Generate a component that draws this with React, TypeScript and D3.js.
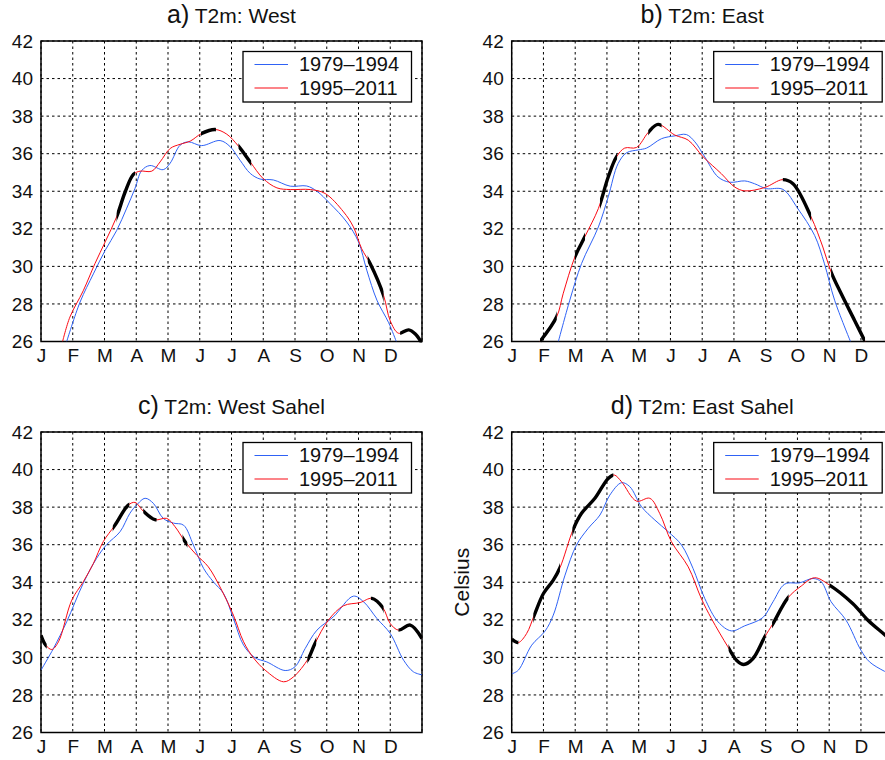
import React, { useEffect, useRef } from "react";
import * as d3 from "d3";

type Pt = [number, number];

const monthLabels = ["J", "F", "M", "A", "M", "J", "J", "A", "S", "O", "N", "D"];
const tempTicks = [26, 28, 30, 32, 34, 36, 38, 40, 42];
const periods = ["1979–1994", "1995–2011"];

// [month position, temperature]
const westEarly: Pt[] = [[0.81, 26], [1.23, 28.1], [1.65, 29.6], [2.02, 30.85], [2.38, 31.9], [2.7, 33.1], [2.96, 34.15], [3.17, 35.1], [3.43, 35.37], [3.85, 35.15], [4.07, 35.5], [4.38, 36.45], [4.64, 36.63], [5.06, 36.43], [5.64, 36.7], [5.96, 36.37], [6.27, 35.65], [6.59, 34.95], [6.9, 34.65], [7.32, 34.6], [7.85, 34.27], [8.37, 34.28], [8.69, 34.0], [9.1, 33.35], [9.63, 32.36], [10.0, 31.3], [10.26, 29.8], [10.58, 28.2], [10.95, 27.0], [11.19, 26]];
const westLate: Pt[] = [[0.68, 26], [0.91, 27.3], [1.33, 28.7], [1.7, 30.15], [2.02, 31.3], [2.38, 32.63], [2.65, 33.96], [2.91, 34.9], [3.12, 35.07], [3.49, 35.07], [3.75, 35.56], [4.07, 36.28], [4.38, 36.5], [4.7, 36.67], [5.06, 37.08], [5.48, 37.29], [5.85, 37.04], [6.22, 36.4], [6.59, 35.56], [7.0, 34.67], [7.43, 34.18], [7.85, 34.09], [8.48, 34.09], [8.95, 33.88], [9.53, 32.9], [9.84, 32.1], [10.1, 30.94], [10.37, 30.14], [10.79, 28.45], [11, 27.1], [11.26, 26.44], [11.58, 26.62], [11.79, 26.4], [12, 25.9]];
const westSignif: Pt[] = [[2.38, 2.96], [5.04, 5.51], [6.22, 6.62], [10.29, 10.79], [11.31, 12]];

const eastEarly: Pt[] = [[1.47, 26], [1.83, 28.2], [2.2, 30.15], [2.73, 32.1], [3.04, 33.7], [3.35, 35.47], [3.62, 36.05], [3.98, 36.2], [4.25, 36.3], [4.72, 36.8], [5.14, 36.95], [5.5, 37.02], [5.77, 36.63], [6.08, 35.83], [6.5, 34.76], [6.87, 34.48], [7.34, 34.55], [7.65, 34.4], [8.02, 34.14], [8.54, 34.1], [9.01, 33.08], [9.54, 31.65], [9.85, 30.14], [10.17, 28.2], [10.67, 26]];
const eastLate: Pt[] = [[0.89, 26], [1.42, 27.33], [1.62, 28.54], [1.99, 30.5], [2.31, 31.6], [2.73, 33.08], [3.04, 34.76], [3.3, 35.83], [3.56, 36.3], [3.93, 36.33], [4.3, 37.13], [4.61, 37.56], [5.14, 36.99], [5.56, 36.72], [6.03, 35.83], [6.6, 34.94], [7.02, 34.23], [7.34, 34.02], [7.97, 34.2], [8.54, 34.62], [8.86, 34.4], [9.43, 32.63], [9.8, 31.03], [10.06, 29.7], [10.38, 28.54], [10.8, 27.12], [11.13, 26]];
const eastSignif: Pt[] = [[0.89, 1.42], [1.99, 2.31], [2.78, 3.32], [4.3, 4.72], [8.54, 9.43], [10.06, 11.13]];

const westSahelEarly: Pt[] = [[0, 29.32], [0.39, 30.47], [0.81, 31.9], [1.33, 33.94], [1.75, 35.27], [2.07, 36.01], [2.49, 36.69], [2.8, 37.67], [3.01, 38.11], [3.28, 38.47], [3.54, 38.2], [3.85, 37.4], [4.17, 37.15], [4.49, 37.04], [4.8, 35.98], [5.12, 34.74], [5.43, 34.02], [5.75, 33.4], [6.06, 32.07], [6.38, 30.65], [6.74, 29.98], [7.11, 29.76], [7.69, 29.3], [8.0, 29.5], [8.32, 30.47], [8.69, 31.45], [9.21, 32.16], [9.84, 33.26], [10.16, 32.96], [10.58, 32.07], [11.0, 31.27], [11.42, 29.85], [11.73, 29.23], [12, 29.07]];
const westSahelLate: Pt[] = [[0, 31.18], [0.15, 30.65], [0.34, 30.42], [0.55, 30.83], [0.97, 33.05], [1.33, 34.02], [1.65, 35], [1.96, 36.16], [2.33, 37.04], [2.75, 38.11], [2.96, 38.25], [3.22, 37.79], [3.59, 37.33], [3.96, 37.4], [4.22, 36.96], [4.54, 36.16], [4.9, 35.45], [5.27, 34.82], [5.69, 33.58], [6.06, 32.25], [6.38, 30.83], [6.69, 29.98], [7.06, 29.32], [7.64, 28.7], [7.95, 28.96], [8.42, 29.94], [8.63, 30.74], [9.05, 31.98], [9.53, 32.75], [10.05, 32.92], [10.42, 33.14], [10.77, 32.64], [11, 31.8], [11.26, 31.45], [11.63, 31.72], [12, 31]];
const westSahelSignif: Pt[] = [[0, 0.18], [2.26, 2.78], [3.22, 3.64], [4.46, 4.61], [8.39, 8.67], [10.39, 10.79], [11.26, 12]];

const eastSahelEarly: Pt[] = [[0, 29.12], [0.21, 29.32], [0.63, 30.65], [1.05, 31.4], [1.31, 32.25], [1.68, 34.38], [2.04, 35.98], [2.41, 36.87], [2.78, 37.58], [3.09, 38.64], [3.46, 39.3], [3.72, 39.09], [4.09, 38.02], [4.51, 37.31], [4.93, 36.69], [5.35, 35.98], [5.71, 34.74], [6.08, 33.14], [6.5, 31.89], [6.92, 31.41], [7.34, 31.68], [7.91, 32.12], [8.23, 32.96], [8.6, 33.9], [9.07, 33.97], [9.49, 34.2], [9.75, 34.02], [10.06, 32.96], [10.53, 31.98], [11.0, 30.38], [11.27, 29.76], [11.74, 29.26], [12, 29.05]];
const eastSahelLate: Pt[] = [[0, 30.97], [0.21, 30.79], [0.47, 31.27], [0.71, 32.25], [1.0, 33.4], [1.31, 34.11], [1.52, 34.77], [1.94, 36.83], [2.2, 37.67], [2.62, 38.47], [3.04, 39.53], [3.23, 39.71], [3.46, 39.35], [3.93, 38.32], [4.35, 38.47], [4.66, 37.67], [5.03, 36.16], [5.56, 34.82], [5.97, 33.14], [6.29, 32.07], [6.81, 30.56], [7.08, 29.85], [7.31, 29.62], [7.6, 29.94], [7.97, 31.09], [8.23, 31.8], [8.7, 33.17], [9.12, 33.8], [9.54, 34.24], [10.01, 33.85], [10.74, 32.87], [11.22, 31.98], [11.74, 31.22], [12, 30.83]];
const eastSahelSignif: Pt[] = [[0, 0.21], [0.68, 1.52], [1.91, 3.2], [6.83, 7.99], [8.2, 8.72], [10.01, 12]];

const panels = [
  { id: "a", tag: "a)", name: "T2m: West", left: 41, top: 41, early: westEarly, late: westLate, signif: westSignif },
  { id: "b", tag: "b)", name: "T2m: East", left: 511.7, top: 41, early: eastEarly, late: eastLate, signif: eastSignif },
  { id: "c", tag: "c)", name: "T2m: West Sahel", left: 41, top: 432, early: westSahelEarly, late: westSahelLate, signif: westSahelSignif },
  { id: "d", tag: "d)", name: "T2m: East Sahel", left: 511.7, top: 432, early: eastSahelEarly, late: eastSahelLate, signif: eastSahelSignif, yLabel: "Celsius" },
];

const WIDTH = 885;
const HEIGHT = 760;
const plotW = 381;
const plotH = 300.5;
const blue = "#2f62f5";
const red = "#fa0a14";
const fontFamily = "'Liberation Sans', Arial, sans-serif";

export default function App() {
  const ref = useRef<SVGSVGElement>(null);

  useEffect(() => {
    const svg = d3.select(ref.current);
    svg.selectAll("*").remove();
    svg.style("font-family", fontFamily);

    const x = d3.scaleLinear().domain([0, 12]).range([0, plotW]);
    const y = d3.scaleLinear().domain([26, 42]).range([plotH, 0]);
    const line = d3
      .line<Pt>()
      .x((d) => x(d[0]))
      .y((d) => y(d[1]))
      .curve(d3.curveCatmullRom.alpha(0.5));

    panels.forEach((p) => {
      const g = svg.append("g").attr("transform", `translate(${p.left},${p.top})`);

      const defs = g.append("defs");
      defs
        .append("clipPath")
        .attr("id", `plot-${p.id}`)
        .append("rect")
        .attr("width", plotW)
        .attr("height", plotH);
      defs
        .append("clipPath")
        .attr("id", `signif-${p.id}`)
        .selectAll("rect")
        .data(p.signif)
        .enter()
        .append("rect")
        .attr("x", (d) => x(d[0]))
        .attr("width", (d) => x(d[1]) - x(d[0]))
        .attr("y", -5)
        .attr("height", plotH + 6);

      // dashed grid
      const grid = g.append("g").attr("stroke", "#000").attr("stroke-width", 1).attr("stroke-dasharray", "2.5,3");
      grid
        .selectAll("line.v")
        .data(d3.range(0, 13))
        .enter()
        .append("line")
        .attr("x1", (d) => x(d))
        .attr("x2", (d) => x(d))
        .attr("y1", 0)
        .attr("y2", plotH);
      grid
        .selectAll("line.h")
        .data(tempTicks)
        .enter()
        .append("line")
        .attr("x1", 0)
        .attr("x2", plotW)
        .attr("y1", (d) => y(d))
        .attr("y2", (d) => y(d));

      // axes
      const xAxis = g
        .append("g")
        .attr("transform", `translate(0,${plotH})`)
        .call(
          d3
            .axisBottom(x)
            .tickValues(d3.range(0, 12))
            .tickFormat((d) => monthLabels[+d])
            .tickSize(0)
            .tickPadding(7)
        );
      const yAxis = g.append("g").call(
        d3
          .axisLeft(y)
          .tickValues(tempTicks)
          .tickFormat((d) => String(d))
          .tickSize(0)
          .tickPadding(8)
      );
      [xAxis, yAxis].forEach((a) => {
        a.attr("font-family", fontFamily).attr("font-size", 19);
        a.selectAll("text").attr("fill", "#111");
        a.select(".domain").remove();
      });

      g.append("rect")
        .attr("width", plotW)
        .attr("height", plotH)
        .attr("fill", "none")
        .attr("stroke", "#000")
        .attr("stroke-width", 1.5);

      // series
      const lines = g.append("g").attr("clip-path", `url(#plot-${p.id})`).attr("fill", "none");
      lines.append("path").attr("d", line(p.early)).attr("stroke", blue).attr("stroke-width", 1);
      lines.append("path").attr("d", line(p.late)).attr("stroke", red).attr("stroke-width", 1);

      // significant part of the late period
      g.append("g")
        .attr("clip-path", `url(#signif-${p.id})`)
        .append("path")
        .attr("d", line(p.late))
        .attr("fill", "none")
        .attr("stroke", "#000")
        .attr("stroke-width", 3.4);

      // legend
      const legend = g.append("g").attr("transform", "translate(202,10.5)");
      legend
        .append("rect")
        .attr("width", 168.5)
        .attr("height", 50.5)
        .attr("fill", "#fff")
        .attr("stroke", "#000")
        .attr("stroke-width", 1.3);
      periods.forEach((label, i) => {
        const rowY = 13 + i * 23.5;
        legend
          .append("line")
          .attr("x1", 11.5)
          .attr("x2", 45)
          .attr("y1", rowY)
          .attr("y2", rowY)
          .attr("stroke", i === 0 ? blue : red)
          .attr("stroke-width", 1.1);
        legend
          .append("text")
          .attr("x", 56)
          .attr("y", rowY + 6.8)
          .attr("font-size", 20)
          .attr("fill", "#111")
          .text(label);
      });

      // title
      const title = g
        .append("text")
        .attr("x", plotW / 2)
        .attr("y", -18)
        .attr("text-anchor", "middle")
        .attr("fill", "#111")
        .attr("font-size", 21);
      title.append("tspan").attr("font-size", 25).text(p.tag);
      title.append("tspan").text(" " + p.name);

      if (p.yLabel) {
        g.append("text")
          .attr("transform", `translate(-43,${plotH / 2}) rotate(-90)`)
          .attr("text-anchor", "middle")
          .attr("font-size", 21)
          .attr("fill", "#111")
          .text(p.yLabel);
      }
    });
  }, []);

  return (
    <svg
      ref={ref}
      width={WIDTH}
      height={HEIGHT}
      style={{ position: "absolute", left: 0, top: 0, display: "block", background: "#fff" }}
    />
  );
}
